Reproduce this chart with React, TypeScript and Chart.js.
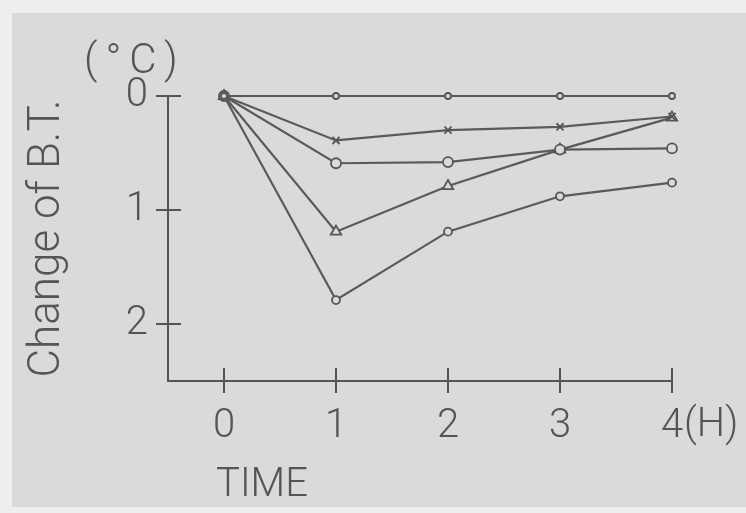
import React, { useEffect, useRef } from "react";
import { Chart, registerables } from "chart.js";

Chart.register(...registerables);

const hours = [0, 1, 2, 3, 4];
const xTickValues = [0, 1, 2, 3, 4];
const yTickValues = [0, 1, 2];
const seriesFlat = [0, 0, 0, 0, 0];
const seriesCross = [0, 0.39, 0.3, 0.27, 0.18];
const seriesRing = [0, 0.59, 0.58, 0.47, 0.46];
const seriesTriangle = [0, 1.19, 0.79, 0.47, 0.19];
const seriesDot = [0, 1.79, 1.19, 0.88, 0.76];
const yTitle = "Change of B.T.";
const yUnit = "(°C)";
const xTitle = "TIME";
const xUnit = "(H)";

const INK = "#555555";
const PAPER = "#dadada";
const EDGE = "#eeeeee";
const FONT = "Roboto";

export default function App() {
  const ref = useRef<HTMLCanvasElement | null>(null);
  useEffect(() => {
    const canvas = ref.current;
    if (!canvas) return;
    const toPts = (arr: number[]) => hours.map((h, i) => ({ x: h, y: arr[i] }));
    const mk = (label: string, arr: number[], style: any, radius: number) => ({
      label,
      data: toPts(arr),
      borderColor: "#5a5a5a",
      borderWidth: 2.2,
      pointStyle: style,
      pointRadius: radius,
      pointBorderColor: INK,
      pointBorderWidth: 1.8,
      pointBackgroundColor: PAPER,
      tension: 0,
      clip: false,
    });
    const paper = {
      id: "paper",
      beforeDraw(chart: any) {
        const c = chart.ctx;
        c.save();
        c.fillStyle = EDGE;
        c.fillRect(0, 0, chart.width, chart.height);
        c.fillStyle = PAPER;
        c.fillRect(12, 13, chart.width - 12, 507 - 13);
        c.restore();
      },
      afterDraw(chart: any) {
        const c = chart.ctx;
        const xs = chart.scales.x;
        const ys = chart.scales.y;
        c.save();
        c.strokeStyle = INK;
        c.lineWidth = 2;
        c.beginPath();
        for (const v of yTickValues) {
          const py = Math.round(ys.getPixelForValue(v));
          c.moveTo(xs.left, py);
          c.lineTo(xs.left + 13, py);
        }
        for (const v of xTickValues) {
          const px = Math.round(xs.getPixelForValue(v));
          c.moveTo(px, ys.bottom);
          c.lineTo(px, ys.bottom - 13);
        }
        c.stroke();
        c.fillStyle = INK;
        c.font = `300 40px ${FONT}`;
        c.textBaseline = "alphabetic";
        c.textAlign = "left";
        const w4 = c.measureText("4").width;
        c.fillText(xUnit, xs.getPixelForValue(4) + w4 / 2 + 1, 436);
        c.fillText(xTitle, 216, 496);
        (c as any).letterSpacing = "8px";
        c.font = `300 42px ${FONT}`;
        c.fillText(yUnit, 84, 73);
        c.restore();
      },
    };
    const chart = new Chart(canvas, {
      type: "line",
      data: {
        datasets: [
          mk("flat", seriesFlat, "circle", 3),
          mk("cross", seriesCross, "crossRot", 5),
          mk("ring", seriesRing, "circle", 5),
          mk("triangle", seriesTriangle, "triangle", 6),
          mk("dot", seriesDot, "circle", 4),
        ],
      },
      options: {
        responsive: false,
        animation: false,
        devicePixelRatio: 1,
        layout: { padding: { top: 96, right: 74, left: 0, bottom: 0 } },
        plugins: { legend: { display: false }, tooltip: { enabled: false } },
        scales: {
          x: {
            type: "linear",
            min: -0.5,
            max: 4,
            afterBuildTicks: (s: any) => {
              s.ticks = xTickValues.map((v) => ({ value: v }));
            },
            afterFit: (s: any) => {
              s.height = 132;
            },
            grid: { drawOnChartArea: false, drawTicks: true, tickLength: 12, color: INK, lineWidth: 2 },
            border: { display: true, color: INK, width: 2 },
            ticks: {
              color: INK,
              padding: 10,
              maxRotation: 0,
              font: { family: FONT, size: 40, weight: "300" },
              callback: (v: any) => String(v),
            },
          },
          y: {
            type: "linear",
            reverse: true,
            min: 0,
            max: 2.5,
            afterBuildTicks: (s: any) => {
              s.ticks = yTickValues.map((v) => ({ value: v }));
            },
            afterFit: (s: any) => {
              s.width = 168;
            },
            grid: { drawOnChartArea: false, drawTicks: true, tickLength: 12, color: INK, lineWidth: 2 },
            border: { display: true, color: INK, width: 2 },
            ticks: {
              color: INK,
              padding: 8,
              font: { family: FONT, size: 40, weight: "300" },
              callback: (v: any) => String(v),
            },
            title: {
              display: true,
              text: yTitle,
              color: INK,
              padding: { top: 22, bottom: 0 },
              font: { family: FONT, size: 44, weight: "300" },
            },
          },
        },
      },
      plugins: [paper],
    });
    return () => chart.destroy();
  }, []);
  return (
    <div style={{ position: "fixed", left: 0, top: 0, width: 746, height: 513 }}>
      <canvas ref={ref} width={746} height={513} style={{ display: "block" }} />
    </div>
  );
}
